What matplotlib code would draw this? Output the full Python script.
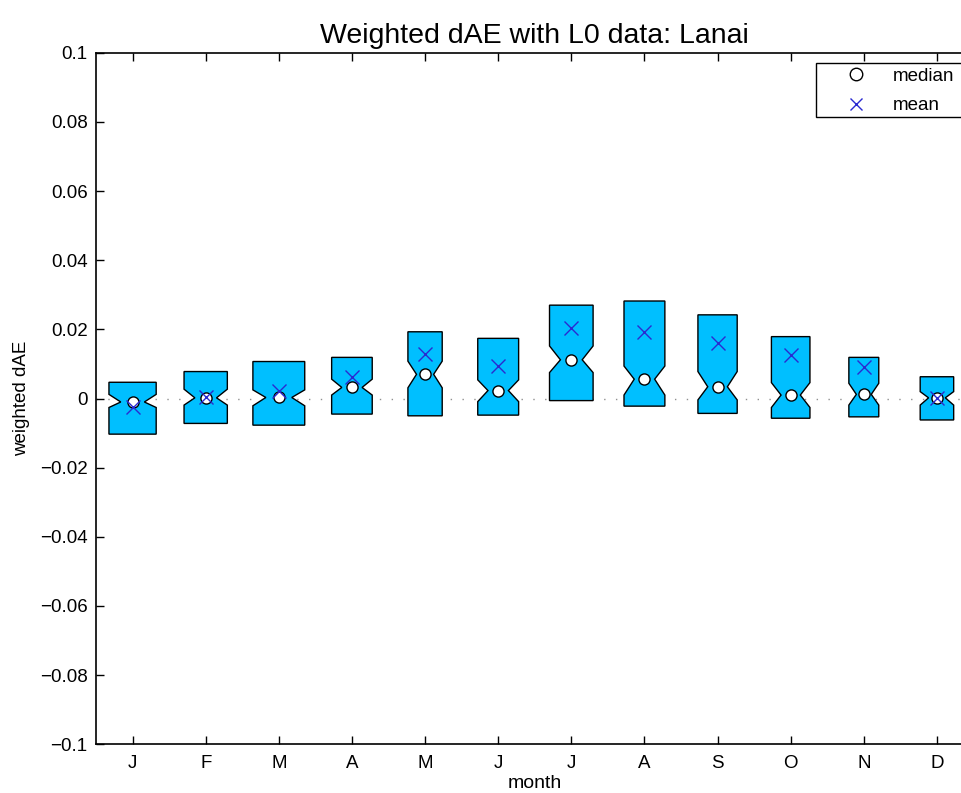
import matplotlib
matplotlib.use("Agg")
import matplotlib.pyplot as plt
from matplotlib.patches import Polygon, Rectangle
from matplotlib.lines import Line2D
import numpy as np

plt.rcParams['font.family'] = ['Liberation Sans', 'DejaVu Sans']

# month labels and box statistics
months = ['J', 'F', 'M', 'A', 'M', 'J', 'J', 'A', 'S', 'O', 'N', 'D']
box_top = [0.0047, 0.0078, 0.0107, 0.0119, 0.0193, 0.0174, 0.0270, 0.0282, 0.0242, 0.0179, 0.0119, 0.0063]
box_bottom = [-0.0103, -0.0072, -0.0077, -0.0045, -0.0050, -0.0048, -0.0006, -0.0022, -0.0043, -0.0057, -0.0053, -0.0062]
notch_hi = [0.0012, 0.0027, 0.0025, 0.0056, 0.0108, 0.0054, 0.0152, 0.0094, 0.0078, 0.0046, 0.0044, 0.0020]
notch_lo = [-0.0026, -0.0019, -0.0021, 0.0010, 0.0031, -0.0009, 0.0075, 0.0010, -0.0004, -0.0026, -0.0019, -0.0019]
medians = [-0.0010, 0.0002, 0.0003, 0.0032, 0.0070, 0.0023, 0.0112, 0.0056, 0.0034, 0.0010, 0.0012, 0.0002]
means = [-0.0025, 0.0003, 0.0023, 0.0063, 0.0128, 0.0095, 0.0203, 0.0193, 0.0160, 0.0126, 0.0090, 0.0002]
widths = [0.646, 0.592, 0.709, 0.555, 0.469, 0.559, 0.596, 0.559, 0.537, 0.527, 0.409, 0.458]

fig = plt.figure(figsize=(9.61, 7.93), dpi=100)
# axes runs a little past the right edge of the picture, as in the original
ax = fig.add_axes([0.0999, 0.0614, 0.9131, 0.8721])

positions = np.arange(1, len(months) + 1)

# dotted zero line behind the boxes
ax.axhline(0, color='#909090', linestyle=(0, (1, 7.5)), linewidth=1, zorder=1)

for x, top, bot, nh, nl, med, w in zip(positions, box_top, box_bottom, notch_hi, notch_lo, medians, widths):
    hw = w / 2
    nw = hw / 2  # notch narrows to half the box width
    verts = [(x - hw, top), (x + hw, top), (x + hw, nh), (x + nw, med), (x + hw, nl),
             (x + hw, bot), (x - hw, bot), (x - hw, nl), (x - nw, med), (x - hw, nh)]
    ax.add_patch(Polygon(verts, closed=True, facecolor='#00BFFF', edgecolor='black',
                         linewidth=1, zorder=2))

ax.plot(positions, medians, 'o', markersize=8, markerfacecolor='white',
        markeredgecolor='black', markeredgewidth=1, linestyle='none', zorder=3)
ax.plot(positions, means, 'x', markersize=10, color='#2a2ad0',
        markeredgewidth=1, linestyle='none', zorder=4)

ax.set_xlim(0.5, 12.5)
ax.set_ylim(-0.1, 0.1)
ax.set_xticks(positions)
ax.set_xticklabels(months)
yt = np.linspace(-0.1, 0.1, 11)
ax.set_yticks(yt)
ax.set_yticklabels(['\u22120.1', '\u22120.08', '\u22120.06', '\u22120.04', '\u22120.02', '0',
                    '0.02', '0.04', '0.06', '0.08', '0.1'])
ax.tick_params(direction='in', length=6, width=1, labelsize=13.5, top=True, right=True, pad=6)
ax.tick_params(axis='x', pad=8)
for sp in ax.spines.values():
    sp.set_linewidth(1.2)

ax.set_xlabel('month', fontsize=14, labelpad=2)
ax.set_ylabel('weighted dAE', fontsize=13.5, labelpad=7)
ax.set_title('Weighted dAE with L0 data: Lanai', fontsize=20.5, pad=7)

handles = [Line2D([], [], marker='o', linestyle='none', markersize=9,
                  markerfacecolor='white', markeredgecolor='black'),
           Line2D([], [], marker='x', linestyle='none', markersize=9, color='#2a2ad0')]
leg = ax.legend(handles, ['median', 'mean'], loc='upper left', bbox_to_anchor=(0.8204, 0.9855),
                fontsize=13.5, frameon=False,
                labelspacing=0.68, handlelength=3.77, handletextpad=0.09, borderpad=0.25,
                borderaxespad=0)
# legend frame drawn separately: in the reference it runs off the right edge
ax.add_patch(Rectangle((0.8204, 0.9066), 0.181, 0.0789, transform=ax.transAxes,
                       facecolor='white', edgecolor='black', linewidth=1,
                       clip_on=False, zorder=4.5))
leg.set_zorder(5)

fig.savefig('out.png', dpi=100)
